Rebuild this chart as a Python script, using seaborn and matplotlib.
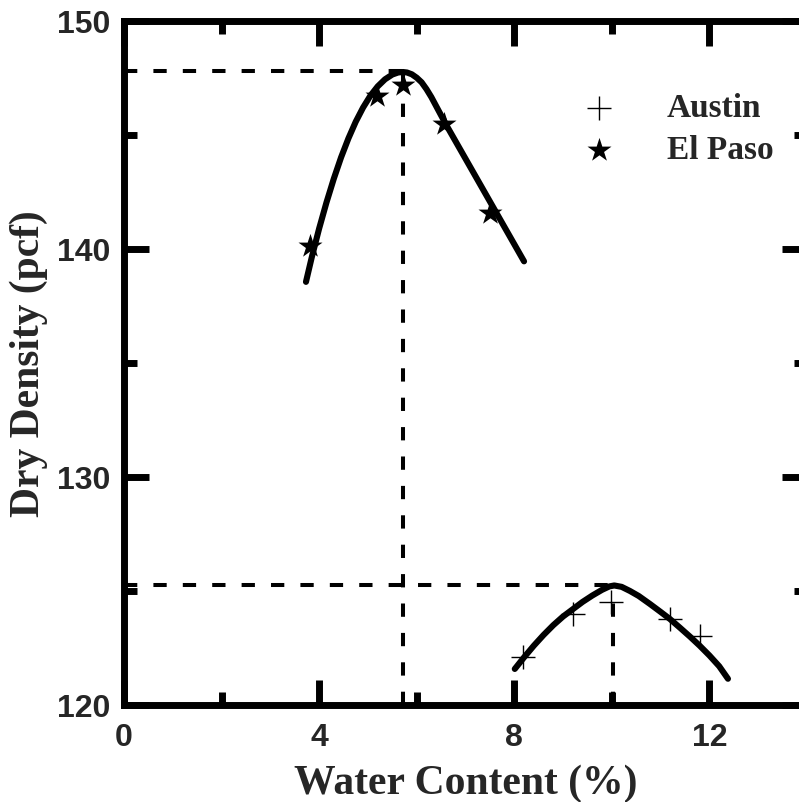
import matplotlib
matplotlib.use("Agg")
import matplotlib.pyplot as plt
import seaborn as sns
import numpy as np

# ---- data ----
# measured points
austin_w = [8.18, 9.21, 9.99, 11.19, 11.80]
austin_d = [122.09, 123.99, 124.50, 123.77, 123.04]
elpaso_w = [3.81, 5.18, 5.72, 6.56, 7.50]
elpaso_d = [140.14, 146.71, 147.18, 145.47, 141.57]

# fitted compaction curves
austin_curve_w = [8.01, 8.20, 8.40, 8.60, 8.80, 9.00, 9.20, 9.40, 9.60, 9.80, 9.95, 10.05,
                  10.20, 10.37, 10.55, 10.78, 11.00, 11.19, 11.40, 11.60, 11.80, 12.00, 12.20, 12.38]
austin_curve_d = [121.58, 122.09, 122.60, 123.07, 123.50, 123.88, 124.20, 124.52, 124.80, 125.05, 125.20, 125.24,
                  125.18, 125.00, 124.78, 124.43, 124.08, 123.77, 123.38, 123.00, 122.60, 122.17, 121.70, 121.15]
elpaso_curve_w = [3.73, 3.85, 4.00, 4.15, 4.30, 4.45, 4.60, 4.75, 4.90, 5.05, 5.20, 5.35, 5.50, 5.62, 5.72,
                  5.80, 5.90, 6.00, 6.10, 6.20, 6.30, 6.40, 6.50, 6.60, 6.80, 7.00, 7.20, 7.40, 7.60, 7.80, 8.00, 8.20]
elpaso_curve_d = [138.55, 139.64, 140.89, 142.03, 143.07, 144.01, 144.84, 145.57, 146.19, 146.71, 147.12, 147.43, 147.64, 147.73, 147.75,
                  147.73, 147.65, 147.50, 147.30, 147.00, 146.65, 146.25, 145.85, 145.45, 144.70, 143.95, 143.20, 142.45, 141.70, 140.95, 140.20, 139.45]

# optimum points (dashed guide lines)
opt_w = [5.72, 10.03]
opt_d = [147.78, 125.25]

x_ticks = [0, 4, 8, 12]
y_ticks = [120, 130, 140, 150]

sns.set_style("ticks")
plt.rcParams['font.family'] = ['Liberation Sans', 'DejaVu Sans']

fig = plt.figure(figsize=(7.99, 8.03), dpi=100)
ax = fig.add_axes([124/799, 97/803, 683/799, 684.3/803])

# dashed guide lines
for w, d in zip(opt_w, opt_d):
    ax.plot([0, w], [d, d], color='black', lw=2.9, dashes=(3.3, 4.0), dash_capstyle='butt', zorder=2)
    ax.plot([w, w], [120, d], color='black', lw=2.9, dashes=(3.3, 4.0), dash_capstyle='butt', zorder=2)

# curves
sns.lineplot(x=elpaso_curve_w, y=elpaso_curve_d, color='black', lw=4.4, sort=False,
             estimator=None, ax=ax, legend=False, zorder=3, solid_capstyle='round',
             solid_joinstyle='round')
sns.lineplot(x=austin_curve_w, y=austin_curve_d, color='black', lw=4.4, sort=False,
             estimator=None, ax=ax, legend=False, zorder=3, solid_capstyle='round',
             solid_joinstyle='round')

# points
sns.scatterplot(x=austin_w, y=austin_d, marker='+', s=290, color='black', linewidth=1.0,
                ax=ax, label='Austin', zorder=4)
sns.scatterplot(x=elpaso_w, y=elpaso_d, marker='*', s=330, color='black', linewidth=0,
                ax=ax, label='El Paso', zorder=4)

ax.set_xlim(0, 14)
ax.set_ylim(120, 150)
ax.set_xticks(x_ticks)
ax.set_yticks(y_ticks)
ax.set_xticks([2, 6, 10, 14], minor=True)
ax.set_yticks([125, 135, 145], minor=True)
ax.tick_params(which='both', direction='in', top=True, right=True, width=5, color='black')
ax.tick_params(which='major', length=18, pad=12)
ax.tick_params(which='minor', length=9.5)
ax.tick_params(axis='y', which='major', pad=10)
for lab in ax.get_xticklabels() + ax.get_yticklabels():
    lab.set_fontsize(23)
    lab.set_fontweight('bold')
    lab.set_fontfamily(['Liberation Sans', 'DejaVu Sans'])
for sp in ax.spines.values():
    sp.set_linewidth(5)
    sp.set_color('black')
    sp.set_capstyle('projecting')

serif = ['Liberation Serif', 'DejaVu Serif']
ax.set_xlabel('Water Content (%)', fontsize=30, fontweight='bold', family=serif)
ax.set_ylabel('Dry Density (pcf)', fontsize=30, fontweight='bold', family=serif)
ax.xaxis.set_label_coords(0.5, -0.085)
ax.yaxis.set_label_coords(-0.112, 0.5)

leg = ax.legend(loc='upper left', bbox_to_anchor=(552/799, 1 - 80/803), bbox_transform=fig.transFigure,
                frameon=False, handletextpad=1.05, labelspacing=0.33, borderaxespad=0,
                prop={'family': serif, 'weight': 'bold', 'size': 24})

fig.savefig('out.png', dpi=100)
